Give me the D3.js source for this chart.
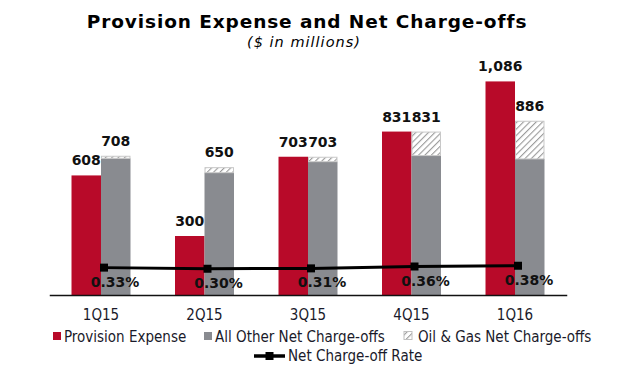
<!DOCTYPE html>
<html lang="en">
	<head>
		<meta charset="utf-8">
		<title>Provision Expense and Net Charge-offs</title>
		<script type="text/javascript" src="https://d3js.org/d3.v7.min.js"></script>
		<style type="text/css">
			body {
				margin: 0;
				background: #ffffff;
			}
			text {
				font-family: "DejaVu Sans", Verdana, sans-serif;
			}
			text.title {
				font-size: 18.5px;
				font-weight: 700;
				letter-spacing: 0.9px;
			}
			text.subtitle {
				font-size: 14.5px;
				font-style: italic;
				letter-spacing: 1px;
			}
			text.valueLabel, text.rateLabel {
				font-size: 14px;
				font-weight: 700;
				fill: #111111;
			}
			.xAxis .tick text, text.legend {
				font-family: "DejaVu Sans Condensed", "Liberation Sans", sans-serif;
				font-size: 15px;
				fill: #1a1a2a;
			}
			.xAxis path.domain {
				stroke: #111111;
				stroke-width: 1.5;
			}
		</style>
	</head>
	<body>
		<div id="chart"></div>
		<script type="text/javascript">

			// data ($ in millions)
			const quarters = ["1Q15", "2Q15", "3Q15", "4Q15", "1Q16"];
			const provision = [608, 300, 703, 831, 1086];
			const otherNCO = [695, 622, 678, 709, 692];
			const oilGasNCO = [13, 28, 25, 122, 194];
			const ncoRate = [0.33, 0.30, 0.31, 0.36, 0.38];

			const width = 640, height = 377;
			const red = "#b80a29", grey = "#898b90";

			const svg = d3.select("#chart")
						  .append("svg")
						    .attr("width", width)
						    .attr("height", height);

			// hatch pattern for oil & gas
			const pat = svg.append("defs").append("pattern")
				.attr("id", "hatch")
				.attr("patternUnits", "userSpaceOnUse")
				.attr("width", 4.5)
				.attr("height", 4.5)
				.attr("patternTransform", "rotate(45)");
			pat.append("rect").attr("width", 4.5).attr("height", 4.5).attr("fill", "#ffffff");
			pat.append("line")
				.attr("x1", 0).attr("y1", 0).attr("x2", 0).attr("y2", 4.5)
				.attr("stroke", "#9a9a9a")
				.attr("stroke-width", 2.2);

			svg.append("text")
			  .attr("class", "title")
			  .attr("x", 307)
			  .attr("y", 27.5)
			  .attr("text-anchor", "middle")
			  .text("Provision Expense and Net Charge-offs");

			svg.append("text")
			  .attr("class", "subtitle")
			  .attr("x", 304)
			  .attr("y", 47)
			  .attr("text-anchor", "middle")
			  .text("($ in millions)");

			const data = quarters.map((q, i) => ({
				q: q,
				provision: provision[i],
				other: otherNCO[i],
				oil: oilGasNCO[i],
				rate: ncoRate[i]
			}));

			const x = d3.scaleBand()
					   .domain(quarters)
					   .range([49.25, 566.75])
					   .paddingInner(0.43)
					   .paddingOuter(0.215);

			const x1 = d3.scaleBand()
						.domain(["provision", "nco"])
						.range([0, x.bandwidth()]);

			const y = d3.scaleLinear()
					   .domain([0, 1200])
					   .range([295, 59]);

			// secondary axis for the rate line (hidden)
			const y2 = d3.scaleLinear()
						.domain([0, 2])
						.range([280, 205]);

			const groups = svg.selectAll("g.group")
				.data(data)
				.enter()
				.append("g")
				  .attr("class", "group")
				  .attr("transform", d => `translate(${x(d.q)},0)`);

			groups.append("rect")
			  .attr("x", x1("provision"))
			  .attr("width", x1.bandwidth())
			  .attr("y", d => y(d.provision))
			  .attr("height", d => y(0) - y(d.provision))
			  .style("fill", red);

			groups.append("rect")
			  .attr("x", x1("nco"))
			  .attr("width", x1.bandwidth())
			  .attr("y", d => y(d.other))
			  .attr("height", d => y(0) - y(d.other))
			  .style("fill", grey);

			groups.append("rect")
			  .attr("x", x1("nco") + 0.5)
			  .attr("width", x1.bandwidth() - 1)
			  .attr("y", d => y(d.other + d.oil) + 0.5)
			  .attr("height", d => y(d.other) - y(d.other + d.oil) - 0.5)
			  .style("fill", "url(#hatch)")
			  .style("stroke", "#c8c8c8")
			  .style("stroke-width", 1);

			groups.append("text")
			  .attr("class", "valueLabel")
			  .attr("x", x1("provision") + x1.bandwidth() / 2)
			  .attr("y", d => y(d.provision) - 10)
			  .attr("text-anchor", "middle")
			  .text(d => d3.format(",")(d.provision));

			groups.append("text")
			  .attr("class", "valueLabel")
			  .attr("x", x1("nco") + x1.bandwidth() / 2)
			  .attr("y", d => y(d.other + d.oil) - 10)
			  .attr("text-anchor", "middle")
			  .text(d => d3.format(",")(d.other + d.oil));

			// x axis
			const xAxis = d3.axisBottom(x).tickSize(0).tickPadding(0);
			const gx = svg.append("g")
			  .attr("class", "xAxis")
			  .attr("transform", "translate(0,295)")
			  .call(xAxis);
			gx.selectAll(".tick text")
			  .attr("dy", null)
			  .attr("y", 25);

			// net charge-off rate line
			const cx = d => x(d.q) + x.bandwidth() / 2 + 3;
			const line = d3.line()
						  .x(cx)
						  .y(d => y2(d.rate));

			svg.append("path")
			  .datum(data)
			  .attr("d", line)
			  .attr("fill", "none")
			  .attr("stroke", "#000000")
			  .attr("stroke-width", 3);

			svg.selectAll("rect.marker")
			  .data(data)
			  .enter()
			  .append("rect")
			    .attr("class", "marker")
			    .attr("x", d => cx(d) - 4)
			    .attr("y", d => y2(d.rate) - 4)
			    .attr("width", 8)
			    .attr("height", 8)
			    .style("fill", "#000000");

			svg.selectAll("text.rateLabel")
			  .data(data)
			  .enter()
			  .append("text")
			    .attr("class", "rateLabel")
			    .attr("x", d => cx(d) + 11)
			    .attr("y", d => y2(d.rate) + 19)
			    .attr("text-anchor", "middle")
			    .text(d => d3.format(".2f")(d.rate) + "%");

			// legend
			const legendItems = [
				{ label: "Provision Expense", fill: red, x: 53, y: 332 },
				{ label: "All Other Net Charge-offs", fill: grey, x: 204, y: 332 },
				{ label: "Oil & Gas Net Charge-offs", fill: "url(#hatch)", x: 404, y: 331.5, stroke: "#c0c0c0" }
			];
			const lg = svg.append("g").attr("class", "legendBox");
			legendItems.forEach(it => {
				lg.append("rect")
				  .attr("x", it.x)
				  .attr("y", it.y)
				  .attr("width", 8)
				  .attr("height", 8)
				  .style("fill", it.fill)
				  .style("stroke", it.stroke || "none");
				lg.append("text")
				  .attr("class", "legend")
				  .attr("x", it.x + (it.stroke ? 14 : 11))
				  .attr("y", 342)
				  .text(it.label);
			});
			lg.append("line")
			  .attr("x1", 254).attr("x2", 285)
			  .attr("y1", 356).attr("y2", 356)
			  .attr("stroke", "#000000")
			  .attr("stroke-width", 3.5);
			lg.append("rect")
			  .attr("x", 265.5).attr("y", 352)
			  .attr("width", 8).attr("height", 8)
			  .style("fill", "#000000");
			lg.append("text")
			  .attr("class", "legend")
			  .attr("x", 288)
			  .attr("y", 361)
			  .text("Net Charge-off Rate");
		</script>
	</body>
</html>
